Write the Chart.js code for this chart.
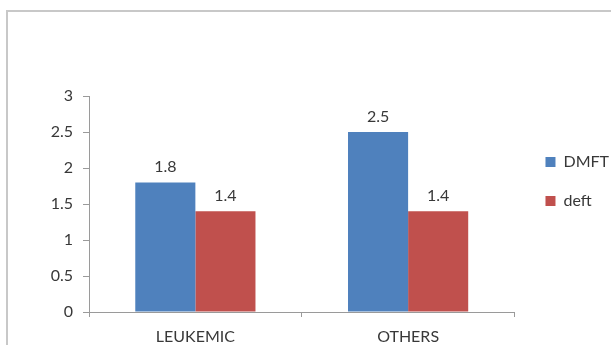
<!DOCTYPE html>
<html>
<head>
<meta charset="utf-8">
<script src="https://cdn.jsdelivr.net/npm/chart.js@4"></script>
<style>
  html, body { margin: 0; padding: 0; background: #fff; }
  body { width: 611px; height: 345px; position: relative; overflow: hidden; }
  .frame { position: absolute; left: 6px; top: 10px; width: 640px; height: 400px; border: 2px solid #c8c8c8; }
  #chart { position: absolute; left: 0; top: 0; }
</style>
</head>
<body>
<div class="frame"></div>
<canvas id="chart" width="611" height="345"></canvas>
<script>
const categories = ['LEUKEMIC', 'OTHERS'];
const seriesNames = ['DMFT', 'deft'];
const dmft = [1.8, 2.5];
const deft = [1.4, 1.4];
const yTickLabels = ['0', '0.5', '1', '1.5', '2', '2.5', '3'];

const FONT = 'Lato, "Open Sans", sans-serif';
const TEXT = '#383838';
const AXIS = '#9a9a9a';

// draws the value above each bar, placed from the bar elements
const valueLabels = {
  id: 'valueLabels',
  afterDatasetsDraw(chart) {
    const { ctx } = chart;
    ctx.save();
    ctx.font = `16px ${FONT}`;
    ctx.fillStyle = TEXT;
    ctx.textAlign = 'center';
    ctx.textBaseline = 'alphabetic';
    chart.data.datasets.forEach((ds, i) => {
      chart.getDatasetMeta(i).data.forEach((bar, j) => {
        ctx.fillText(ds.data[j].toFixed(1), bar.x, bar.y - 10);
      });
    });
    ctx.restore();
  },
};

// push the legend a little away from the plot
const legendShift = {
  id: 'legendShift',
  afterLayout(chart) {
    const lg = chart.legend;
    lg.left += 8;
    lg.right += 8;
  },
};

new Chart(document.getElementById('chart'), {
  type: 'bar',
  data: {
    labels: categories,
    datasets: [
      { label: seriesNames[0], data: dmft, backgroundColor: '#4f81bd' },
      { label: seriesNames[1], data: deft, backgroundColor: '#c0504d' },
    ],
  },
  options: {
    responsive: false,
    animation: false,
    events: [],
    layout: { padding: { top: 96, left: 0, right: 0, bottom: 0 } },
    datasets: { bar: { barPercentage: 1, categoryPercentage: 0.565 } },
    plugins: {
      tooltip: { enabled: false },
      legend: {
        position: 'right',
        align: 'start',
        title: { display: true, text: ' ', font: { size: 12, lineHeight: 1 }, padding: { top: 23, bottom: 0 } },
        labels: {
          boxWidth: 10,
          boxHeight: 10,
          padding: 23,
          color: TEXT,
          font: { family: FONT, size: 16 },
        },
      },
    },
    scales: {
      x: {
        afterFit: (s) => { s.height = 33; },
        border: { display: true, color: AXIS, width: 1 },
        grid: { drawOnChartArea: false, drawTicks: true, tickLength: 5, color: AXIS },
        ticks: { color: TEXT, padding: 10, font: { family: FONT, size: 16 } },
      },
      y: {
        min: 0,
        max: 3,
        afterFit: (s) => { s.width = 89; },
        border: { display: true, color: AXIS, width: 1 },
        grid: { drawOnChartArea: false, drawTicks: true, tickLength: 6, color: AXIS },
        ticks: {
          stepSize: 0.5,
          padding: 10,
          color: TEXT,
          font: { family: FONT, size: 16 },
          callback: (v, i) => yTickLabels[i],
        },
      },
    },
  },
  plugins: [valueLabels, legendShift],
});
</script>
</body>
</html>
